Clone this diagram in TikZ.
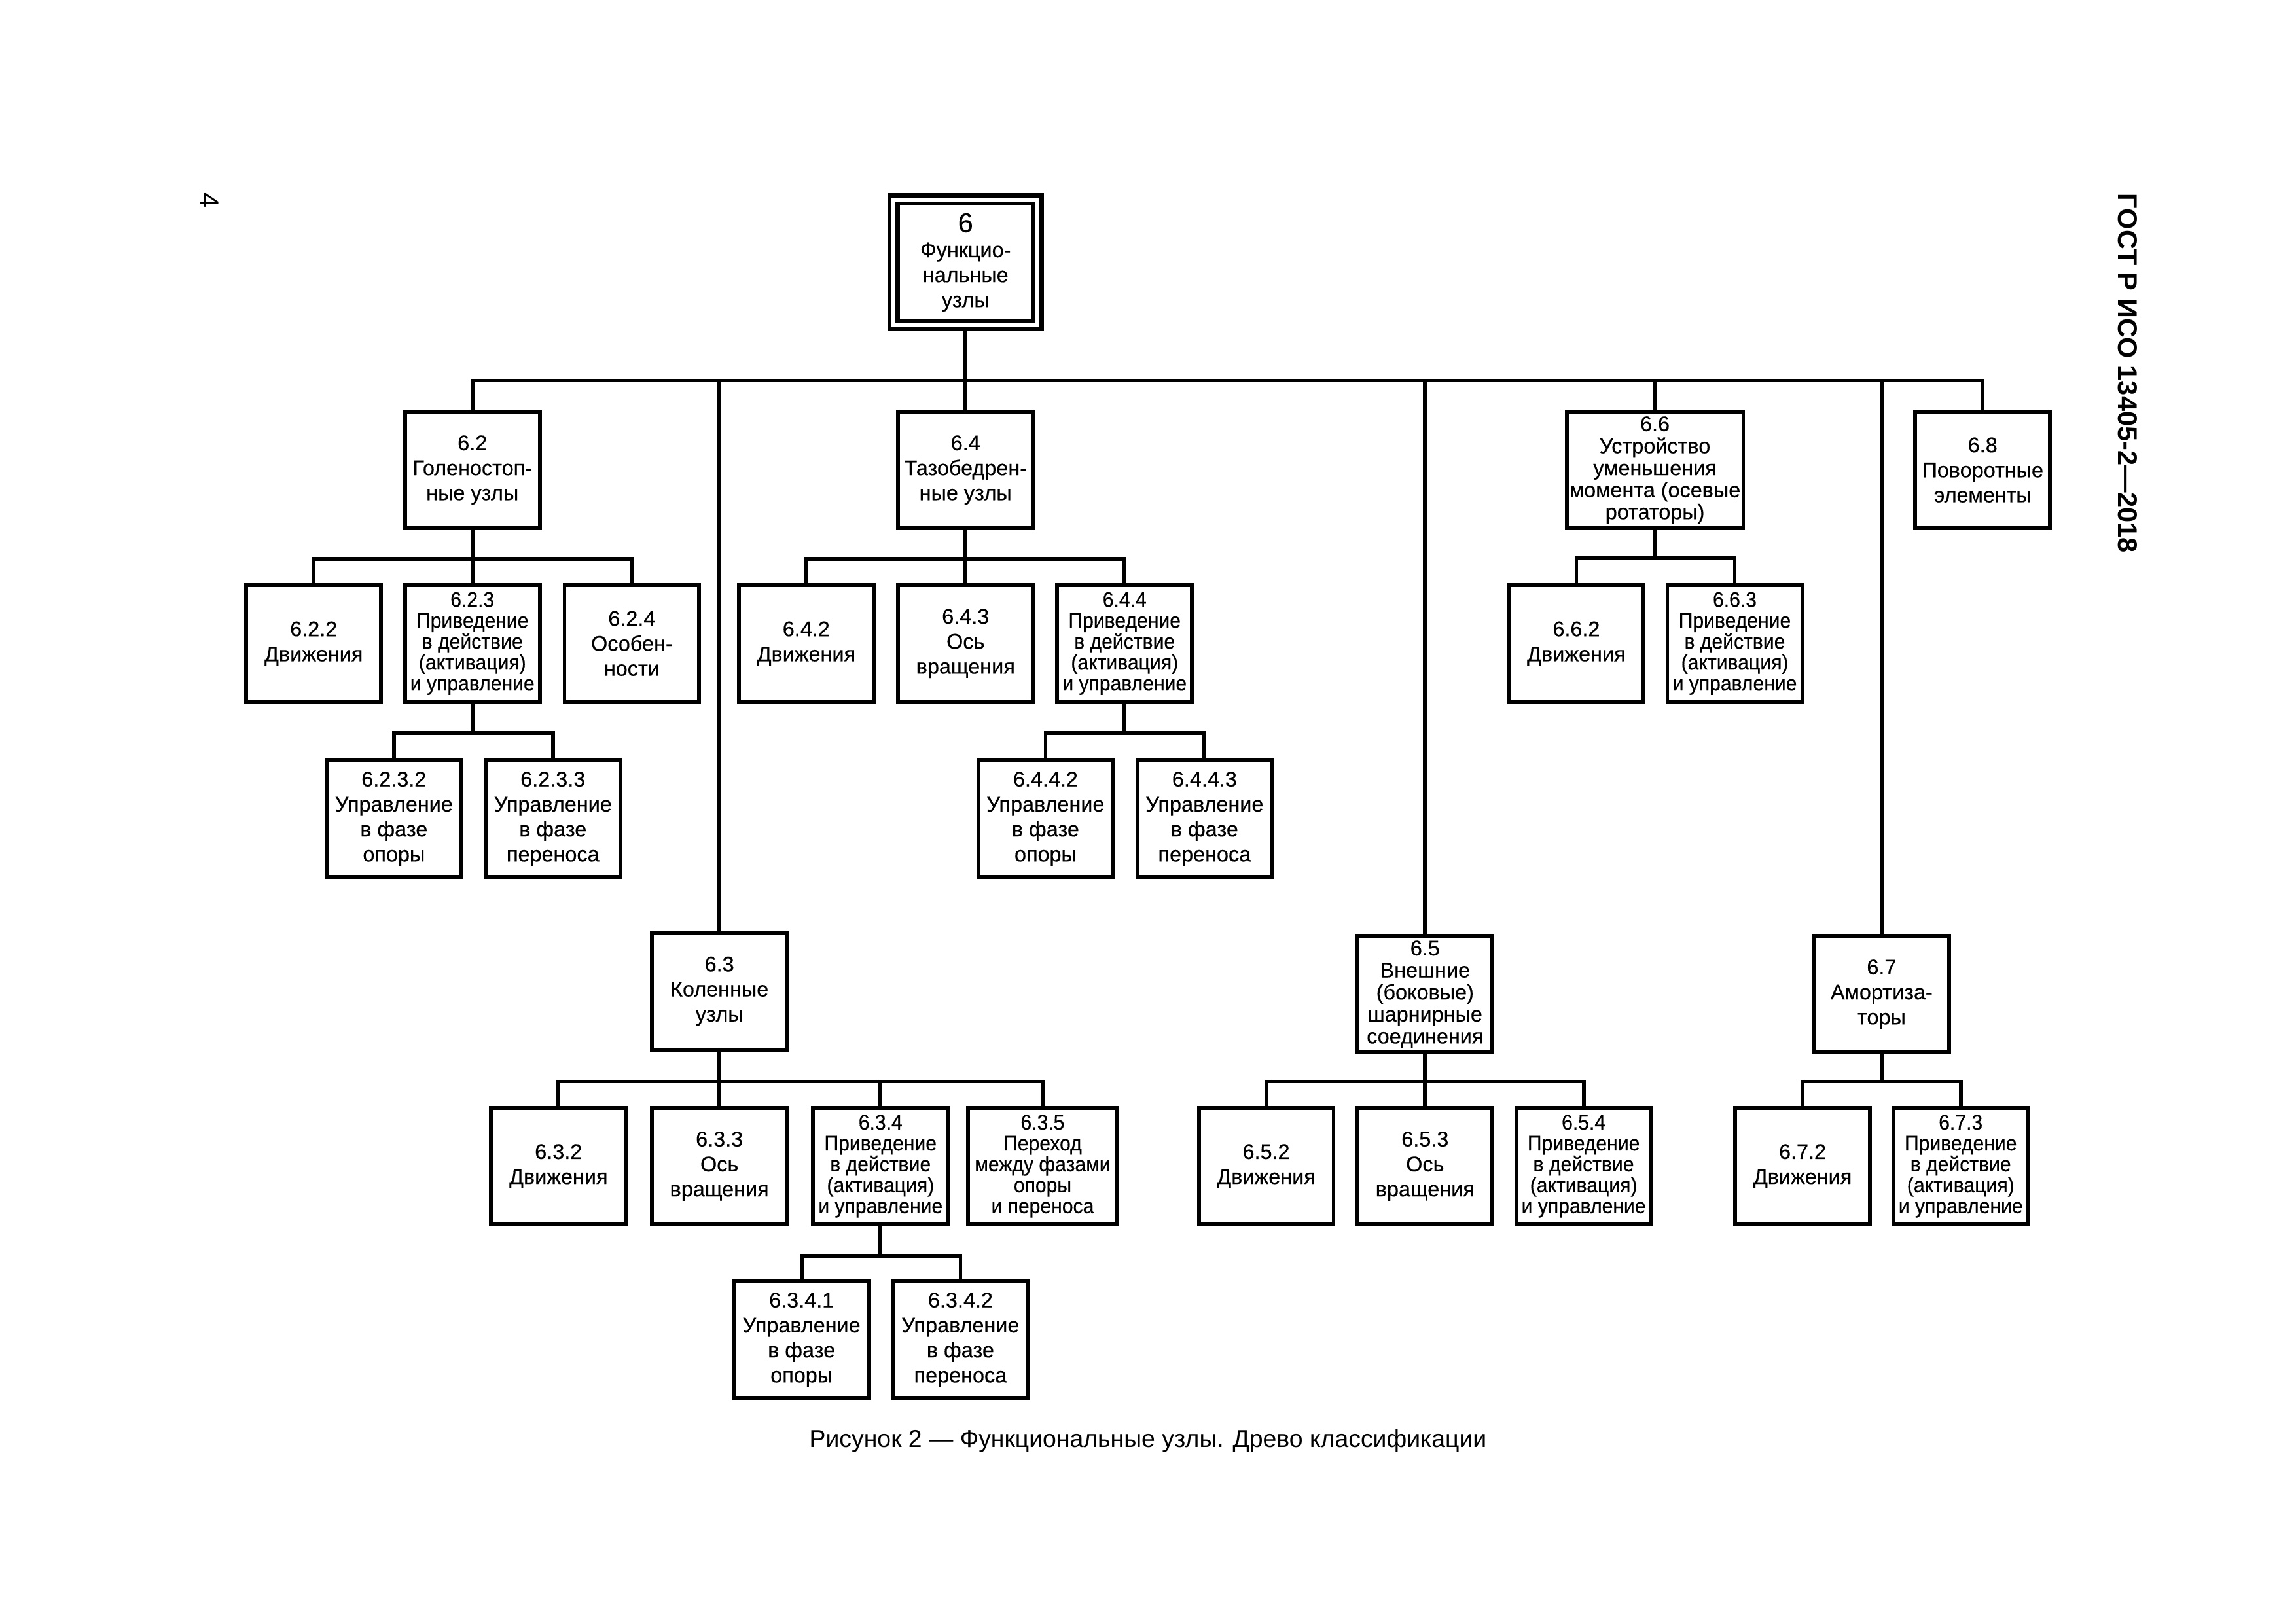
\documentclass[tikz,border=0pt]{standalone}
\usepackage{fontspec}
\setmainfont{Liberation Sans}
\newfontfamily\boxfont{Liberation Sans}[FakeBold=0.35]
\newfontfamily\narrowfont{Liberation Sans}[FakeStretch=0.93, FakeBold=0.35]
\newcommand{\bx}{\boxfont\fontsize{7.8}{9.2}\selectfont}
\newcommand{\bxm}{\boxfont\fontsize{7.8}{8.1}\selectfont}
\newcommand{\bxn}{\narrowfont\fontsize{7.8}{7.7}\selectfont}
\tikzset{
  blk/.style={draw, line width=1.4pt, minimum width=49.6pt, minimum height=42.9pt,
    inner sep=0pt, align=center, font=\bx},
  conn/.style={line width=1.4pt},
}
\begin{document}
\begin{tikzpicture}[x=0.5389pt, y=-0.5389pt]
  \useasboundingbox (0,0) rectangle (1568,1108.5);
  \node[rotate=-90, font=\fontsize{10}{12}\selectfont] (pg) at (143,137) {4};
  \node[rotate=-90, font=\bfseries\fontsize{10}{12}\selectfont] (hdr) at (1453,255) {ГОСТ Р ИСО 13405-2—2018};

  \node[blk, double, line width=1.5pt, double distance=1.5pt, outer sep=2.25pt,
    minimum width=53pt, minimum height=46.3pt] (n6) at (659.4,179.2)
    {{\fontsize{10}{11}\selectfont 6}\\Функцио-\\нальные\\узлы};

  \node[blk] (n62) at (322.6,321) {6.2\\Голеностоп-\\ные узлы};
  \node[blk] (n64) at (659.4,321) {6.4\\Тазобедрен-\\ные узлы};
  \node[blk, font=\bxm, minimum width=65pt] (n66) at (1130.2,321)
    {6.6\\Устройство\\уменьшения\\момента (осевые\\ротаторы)};
  \node[blk] (n68) at (1354,321) {6.8\\Поворотные\\элементы};

  \node[blk] (n622) at (214.2,439.5) {6.2.2\\Движения};
  \node[blk, font=\bxn] (n623) at (322.6,439.5) {6.2.3\\Приведение\\в действие\\(активация)\\и управление};
  \node[blk] (n624) at (431.5,439.5) {6.2.4\\Особен-\\ности};
  \node[blk] (n6232) at (269,559.2) {6.2.3.2\\Управление\\в фазе\\опоры};
  \node[blk] (n6233) at (377.6,559.2) {6.2.3.3\\Управление\\в фазе\\переноса};

  \node[blk] (n642) at (550.6,439.5) {6.4.2\\Движения};
  \node[blk] (n643) at (659.4,439.5) {6.4.3\\Ось\\вращения};
  \node[blk, font=\bxn] (n644) at (768,439.5) {6.4.4\\Приведение\\в действие\\(активация)\\и управление};
  \node[blk] (n6442) at (714,559.2) {6.4.4.2\\Управление\\в фазе\\опоры};
  \node[blk] (n6443) at (822.6,559.2) {6.4.4.3\\Управление\\в фазе\\переноса};

  \node[blk] (n662) at (1076.5,439.5) {6.6.2\\Движения};
  \node[blk, font=\bxn] (n663) at (1184.7,439.5) {6.6.3\\Приведение\\в действие\\(активация)\\и управление};

  \node[blk] (n63) at (491.3,677) {6.3\\Коленные\\узлы};
  \node[blk] (n632) at (381.4,796.5) {6.3.2\\Движения};
  \node[blk] (n633) at (491.3,796.5) {6.3.3\\Ось\\вращения};
  \node[blk, font=\bxn] (n634) at (601.3,796.5) {6.3.4\\Приведение\\в действие\\(активация)\\и управление};
  \node[blk, font=\bxn, minimum width=54.8pt] (n635) at (712,796.5) {6.3.5\\Переход\\между фазами\\опоры\\и переноса};
  \node[blk] (n6341) at (547.4,915) {6.3.4.1\\Управление\\в фазе\\опоры};
  \node[blk] (n6342) at (655.9,915) {6.3.4.2\\Управление\\в фазе\\переноса};

  \node[blk, font=\bxm] (n65) at (973.2,679) {6.5\\Внешние\\(боковые)\\шарнирные\\соединения};
  \node[blk] (n652) at (864.7,796.5) {6.5.2\\Движения};
  \node[blk] (n653) at (973.2,796.5) {6.5.3\\Ось\\вращения};
  \node[blk, font=\bxn] (n654) at (1081.5,796.5) {6.5.4\\Приведение\\в действие\\(активация)\\и управление};

  \node[blk] (n67) at (1285,679) {6.7\\Амортиза-\\торы};
  \node[blk] (n672) at (1231,796.5) {6.7.2\\Движения};
  \node[blk, font=\bxn] (n673) at (1339,796.5) {6.7.3\\Приведение\\в действие\\(активация)\\и управление};

  % top level
  \draw[conn] (n6.south) -- ++(0,33.6) coordinate (b6);
  \draw[conn] (n62.north) |- (b6) -| (n68.north);
  \draw[conn] (b6) -- (n64.north);
  \draw[conn] (n63.north) -- (n63.north |- b6);
  \draw[conn] (n65.north) -- (n65.north |- b6);
  \draw[conn] (n66.north) -- (n66.north |- b6);
  \draw[conn] (n67.north) -- (n67.north |- b6);

  \draw[conn] (n62.south) -- ++(0,19.5) coordinate (b62);
  \draw[conn] (n622.north) |- (b62) -| (n624.north);
  \draw[conn] (b62) -- (n623.north);
  \draw[conn] (n623.south) -- ++(0,20) coordinate (b623);
  \draw[conn] (n6232.north) |- (b623) -| (n6233.north);

  \draw[conn] (n64.south) -- ++(0,19.5) coordinate (b64);
  \draw[conn] (n642.north) |- (b64) -| (n644.north);
  \draw[conn] (b64) -- (n643.north);
  \draw[conn] (n644.south) -- ++(0,20) coordinate (b644);
  \draw[conn] (n6442.north) |- (b644) -| (n6443.north);

  \draw[conn] (n66.south) -- ++(0,19) coordinate (b66);
  \draw[conn] (n662.north) |- (b66) -| (n663.north);

  \draw[conn] (n63.south) -- ++(0,20.5) coordinate (b63);
  \draw[conn] (n632.north) |- (b63) -| (n635.north);
  \draw[conn] (b63) -- (n633.north);
  \draw[conn] (n634.north) -- (n634.north |- b63);
  \draw[conn] (n634.south) -- ++(0,20) coordinate (b634);
  \draw[conn] (n6341.north) |- (b634) -| (n6342.north);

  \draw[conn] (n65.south) -- ++(0,18.5) coordinate (b65);
  \draw[conn] (n652.north) |- (b65) -| (n654.north);
  \draw[conn] (b65) -- (n653.north);

  \draw[conn] (n67.south) -- ++(0,18.5) coordinate (b67);
  \draw[conn] (n672.north) |- (b67) -| (n673.north);

  \node[font=\fontsize{9}{11}\selectfont] (cap) at (784,984)
    {Рисунок 2 — Функциональные узлы. Древо классификации};
\end{tikzpicture}
\end{document}
